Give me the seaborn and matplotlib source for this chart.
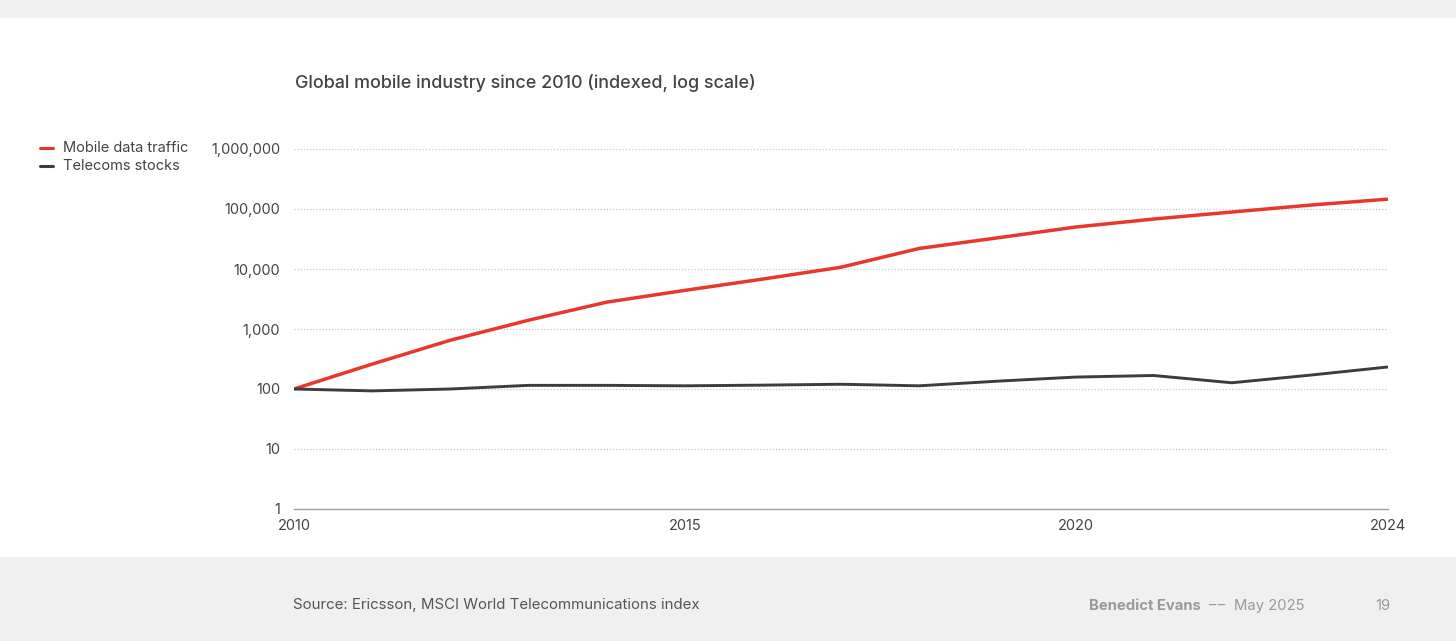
import numpy as np
import pandas as pd
import matplotlib
matplotlib.use("Agg")
import matplotlib.pyplot as plt
from matplotlib.patches import Rectangle
from matplotlib.ticker import FixedLocator, FuncFormatter, NullLocator
import seaborn as sns

years = list(range(2010, 2025))
mobile_data_traffic = [100, 260, 650, 1400, 2800, 4400, 6800, 10700, 22000, 33000,
                       50000, 68000, 89000, 116000, 146000]
telecoms_stocks = [100, 93, 100, 115, 115, 113, 116, 120, 113, 135,
                   158, 168, 127, 170, 233]
series_names = ["Mobile data traffic", "Telecoms stocks"]
y_ticks = [1, 10, 100, 1000, 10000, 100000, 1000000]
x_ticks = [2010, 2015, 2020, 2024]

df = pd.DataFrame({
    "year": years * 2,
    "value": mobile_data_traffic + telecoms_stocks,
    "series": [series_names[0]] * len(years) + [series_names[1]] * len(years),
})

sns.set_theme(style="white")
plt.rcParams["font.family"] = ["Inter", "DejaVu Sans"]

W, H = 1456, 641
fig = plt.figure(figsize=(W / 100, H / 100), dpi=100)
fig.patch.set_facecolor("white")
# background bands
fig.add_artist(Rectangle((0, 1 - 18 / H), 1, 18 / H, transform=fig.transFigure,
                         facecolor="#f0f0f0", edgecolor="none", zorder=0))
fig.add_artist(Rectangle((0, 0), 1, 1 - 557 / H, transform=fig.transFigure,
                         facecolor="#f0f0f0", edgecolor="none", zorder=0))

left, right = 294 / W, 1388 / W
bottom, top = 1 - 509 / H, 1 - 149 / H
ax = fig.add_axes([left, bottom, right - left, top - bottom])
ax.set_facecolor("white")

palette = {series_names[0]: "#e8372d", series_names[1]: "#3d3d3d"}
sns.lineplot(data=df, x="year", y="value", hue="series", palette=palette,
             ax=ax, legend=False, linewidth=2.3)
for line, lw in zip(ax.get_lines(), [2.5, 2.1]):
    line.set_linewidth(lw)
    line.set_solid_capstyle("butt")
    line.set_solid_joinstyle("round")

ax.set_yscale("log")
ax.set_ylim(1, 1000000)
ax.set_xlim(2010, 2024)
ax.yaxis.set_major_locator(FixedLocator(y_ticks))
ax.yaxis.set_minor_locator(NullLocator())
ax.yaxis.set_major_formatter(FuncFormatter(lambda v, p: f"{int(round(v)):,}"))
ax.xaxis.set_major_locator(FixedLocator(x_ticks))
ax.xaxis.set_major_formatter(FuncFormatter(lambda v, p: f"{int(v)}"))

for yv in y_ticks[1:]:
    ax.axhline(yv, color="#c8c8c8", linewidth=0.9, linestyle=(0, (1, 1.5)), zorder=0)

for s in ["top", "right", "left"]:
    ax.spines[s].set_visible(False)
ax.spines["bottom"].set_color("#a0a0a0")
ax.spines["bottom"].set_linewidth(1.0)

ax.tick_params(axis="y", length=0, pad=10, labelsize=10.5, labelcolor="#444444")
ax.tick_params(axis="x", length=0, pad=7.5, labelsize=10.5, labelcolor="#444444")
ax.set_xlabel("")
ax.set_ylabel("")
ax.grid(False)

fig.text(295 / W, 1 - 83 / H, "Global mobile industry since 2010 (indexed, log scale)",
         ha="left", va="center", fontsize=12.9, color="#444444", fontweight="medium")

# legend
for i, name in enumerate(series_names):
    yy = 1 - (148 + i * 18) / H
    fig.add_artist(plt.Line2D([40 / W, 53 / W], [yy, yy], transform=fig.transFigure,
                              color=palette[name], linewidth=2.2))
    fig.text(63 / W, yy, name, ha="left", va="center", fontsize=10.5, color="#444444")

# footer
fig.text(293 / W, 1 - 605 / H, "Source: Ericsson, MSCI World Telecommunications index",
         ha="left", va="center", fontsize=10.8, color="#555555")
fig.text(1089 / W, 1 - 606 / H, "Benedict Evans", ha="left", va="center",
         fontsize=10.7, color="#9a9a9a", fontweight="bold")
fig.text(1209 / W, 1 - 606 / H, "\u2013", ha="left", va="center",
         fontsize=10.5, color="#9a9a9a")
fig.text(1218 / W, 1 - 606 / H, "\u2013", ha="left", va="center",
         fontsize=10.5, color="#9a9a9a")
fig.text(1234 / W, 1 - 606 / H, "May 2025", ha="left", va="center",
         fontsize=10.7, color="#9a9a9a")
fig.text(1391 / W, 1 - 606 / H, "19", ha="right", va="center",
         fontsize=10.7, color="#9a9a9a")

fig.savefig("out.png", dpi=100, facecolor=fig.get_facecolor())
